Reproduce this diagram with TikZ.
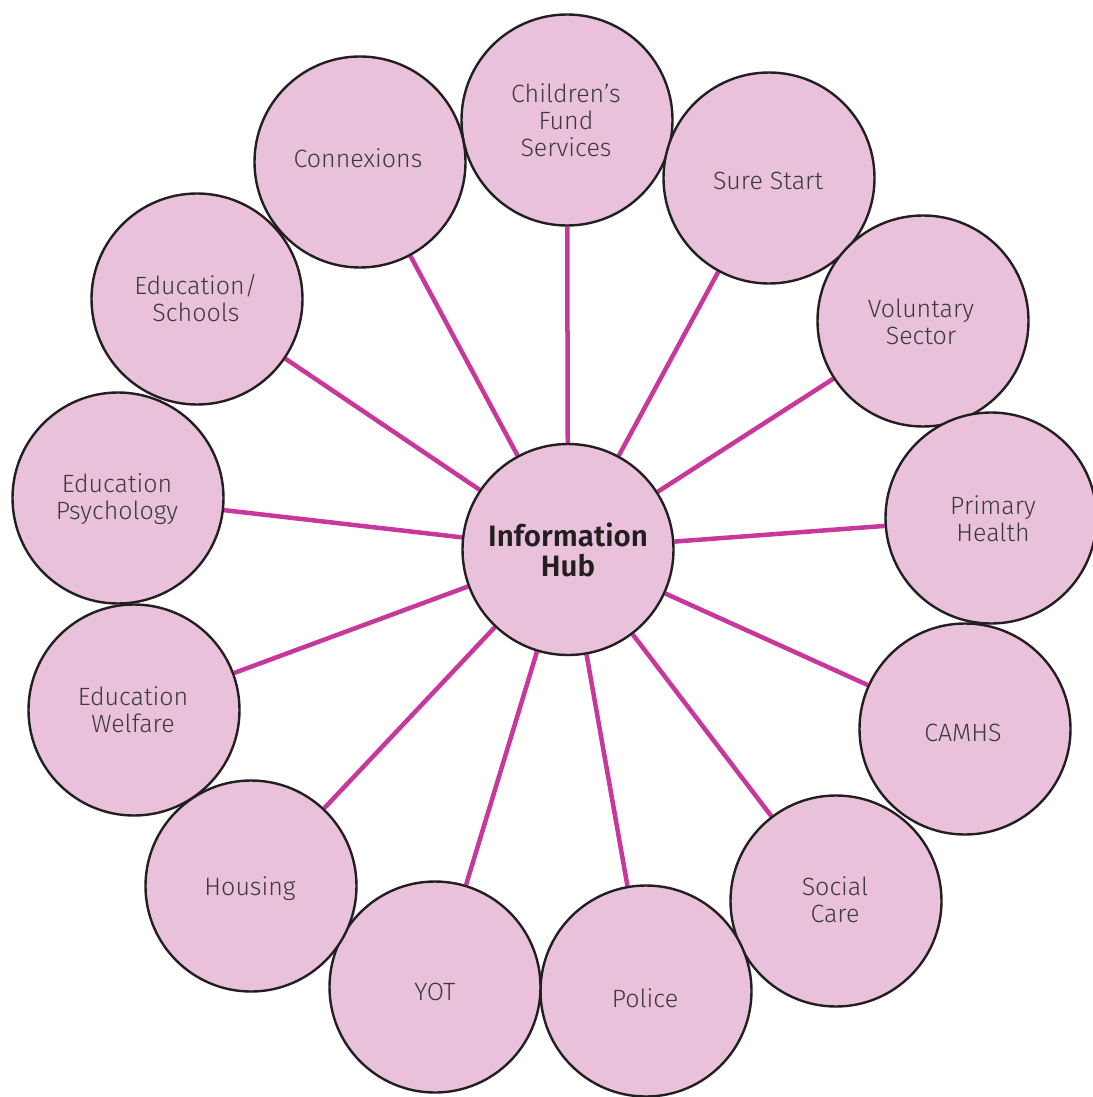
\documentclass[tikz,border=0pt]{standalone}
\usepackage{fontspec}
\setmainfont{Fira Sans Light}
\newfontfamily\hubfont{Fira Sans SemiBold}
\usetikzlibrary{backgrounds}
\definecolor{pinkfill}{HTML}{EAC1DB}
\definecolor{linkcol}{HTML}{C8379B}
\definecolor{rimcol}{HTML}{231F20}
\definecolor{txtcol}{HTML}{3A3A3A}
\begin{document}
\begin{tikzpicture}[x=1pt,y=-1pt,
  agency/.style={circle,draw=rimcol,fill=pinkfill,line width=2.4pt,minimum size=211pt,inner sep=0pt},
  lbl/.style={text=txtcol,align=center,inner sep=0pt,font=\fontsize{25}{27}\selectfont},
  hubnode/.style={agency,text=rimcol,align=center,font=\hubfont\fontsize{29.5}{30}\selectfont},
  link/.style={draw=linkcol,line width=4.5pt}]
\useasboundingbox (0,0) rectangle (1092,1097);
\node[agency] (cf) at (567,120) {};
\node[lbl] (cft) at (566,120) {Children’s\\Fund\\Services};
\node[agency] (ss) at (769,178) {};
\node[lbl] (sst) at (768,181) {Sure Start};
\node[agency] (vs) at (923,321) {};
\node[lbl] (vst) at (921,322) {Voluntary\\Sector};
\node[agency] (ph) at (991,518) {};
\node[lbl] (pht) at (993,519) {Primary\\Health};
\node[agency] (ca) at (965,729) {};
\node[lbl] (cat) at (963,733) {CAMHS};
\node[agency] (sc) at (836,901) {};
\node[lbl] (sct) at (835,900) {Social\\Care};
\node[agency] (po) at (646,991) {};
\node[lbl] (pot) at (645,998) {Police};
\node[agency] (yo) at (435,987) {};
\node[lbl] (yot) at (435,992) {YOT};
\node[agency] (ho) at (251,886) {};
\node[lbl] (hot) at (250,889) {Housing};
\node[agency] (ew) at (134,710) {};
\node[lbl] (ewt) at (133,710) {Education\\Welfare};
\node[agency] (ep) at (118,498) {};
\node[lbl] (ept) at (117,499) {Education\\Psychology};
\node[agency] (es) at (197,299) {};
\node[lbl] (est) at (196,298) {Education/\\Schools};
\node[agency] (cx) at (360,162) {};
\node[lbl] (cxt) at (358,158) {Connexions};
\node[hubnode] (hub) at (568,549.5) {Information\\Hub};
\begin{scope}[on background layer]
\foreach \n in {cf,ss,vs,ph,ca,sc,po,yo,ho,ew,ep,es,cx}
  \draw[link] (hub) -- (\n);
\end{scope}
\end{tikzpicture}
\end{document}
